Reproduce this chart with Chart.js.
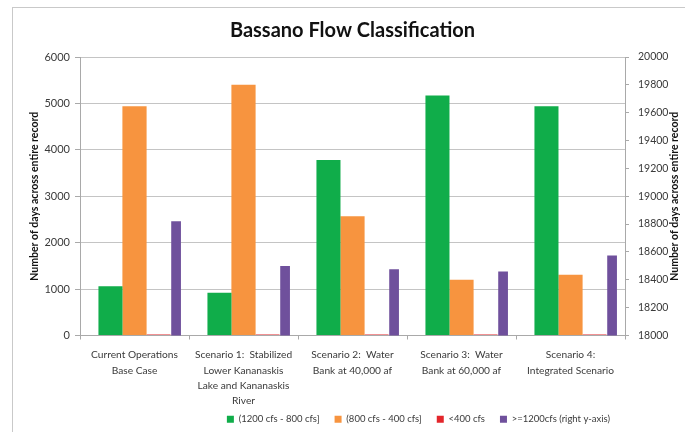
<!DOCTYPE html>
<html>
<head>
<meta charset="utf-8">
<title>Bassano Flow Classification</title>
<script src="https://cdn.jsdelivr.net/npm/chart.js@4.4.1/dist/chart.umd.min.js"></script>
<style>
  html, body { margin: 0; padding: 0; background: #fff; }
  #wrap { position: relative; width: 685px; height: 432px; overflow: hidden; }
  #frame { position: absolute; left: 12px; top: 7px; width: 700px; height: 450px;
           border-left: 1px solid #c9c9c9; border-top: 1px solid #c9c9c9; pointer-events: none; }
  canvas { display: block; }
</style>
</head>
<body>
<div id="wrap">
  <canvas id="chart" width="685" height="432"></canvas>
  <div id="frame"></div>
</div>
<script>
// Scenario labels (multi-line)
const categories = [
  ['Current Operations', 'Base Case'],
  ['Scenario 1:  Stabilized', 'Lower Kananaskis', 'Lake and Kananaskis', 'River'],
  ['Scenario 2:  Water', 'Bank at 40,000 af'],
  ['Scenario 3:  Water', 'Bank at 60,000 af'],
  ['Scenario 4:', 'Integrated Scenario']
];

const seriesNames = [
  '(1200 cfs - 800 cfs]',
  '(800 cfs - 400 cfs]',
  '<400 cfs',
  '>=1200cfs (right y-axis)'
];

// Number of days in each flow class (left axis)
const days1200to800 = [1060, 920, 3780, 5170, 4940];
const days800to400  = [4940, 5400, 2570, 1200, 1310];
const daysBelow400  = [20, 20, 20, 20, 20];
// Number of days above 1200 cfs (right axis)
const daysAbove1200 = [18820, 18500, 18475, 18460, 18575];

// Axis tick values
const leftTicks  = [0, 1000, 2000, 3000, 4000, 5000, 6000];
const rightTicks = [18000, 18200, 18400, 18600, 18800, 19000, 19200, 19400, 19600, 19800, 20000];

const chartTitle = 'Bassano Flow Classification';
const axisTitle = 'Number of days across entire record';

const FONT = 'Lato, "Open Sans", sans-serif';
const GRID = '#c4c4c4';
const AXIS = '#a9a9a9';
const TEXT = '#3a3a3a';

// Secondary axis title, written bottom-to-top beside the right scale
const rightAxisTitle = {
  id: 'rightAxisTitle',
  afterDraw(chart) {
    const s = chart.scales.y2;
    const ctx = chart.ctx;
    ctx.save();
    ctx.translate(s.right - 10, (s.top + s.bottom) / 2);
    ctx.rotate(-Math.PI / 2);
    ctx.font = 'bold 10.5px ' + FONT;
    ctx.fillStyle = '#111';
    ctx.textAlign = 'center';
    ctx.textBaseline = 'middle';
    ctx.fillText(axisTitle, 0, 0);
    ctx.restore();
  }
};

// Let the long category label run past the bottom of the x scale box
const categoryLabelRoom = {
  id: 'categoryLabelRoom',
  beforeDraw(chart) {
    chart.scales.x.bottom = chart.height;
  }
};

new Chart(document.getElementById('chart'), {
  type: 'bar',
  data: {
    labels: categories,
    datasets: [
      {
        label: seriesNames[0], data: days1200to800, yAxisID: 'y',
        backgroundColor: '#10ad4a', stack: 'low',
        categoryPercentage: 0.882, barPercentage: 0.5
      },
      {
        label: seriesNames[1], data: days800to400, yAxisID: 'y',
        backgroundColor: '#f7943f', grouped: false,
        categoryPercentage: 1, barPercentage: 0.222
      },
      {
        label: seriesNames[2], data: daysBelow400, yAxisID: 'y',
        backgroundColor: '#e3262b', stack: 'high',
        categoryPercentage: 0.882, barPercentage: 0.5
      },
      {
        label: seriesNames[3], data: daysAbove1200, yAxisID: 'y2',
        backgroundColor: '#6f509c', stack: 'high',
        categoryPercentage: 1.526, barPercentage: 0.117
      }
    ]
  },
  options: {
    responsive: false,
    devicePixelRatio: 1,
    animation: false,
    layout: { padding: { left: 0, right: 0, top: 0, bottom: -2 } },
    plugins: {
      title: {
        display: true,
        fullSize: false,
        text: chartTitle,
        color: '#111',
        font: { family: FONT, size: 20, weight: 'bold' },
        padding: { top: 19, bottom: 14 }
      },
      legend: {
        position: 'bottom',
        fullSize: false,
        align: 'end',
        labels: {
          color: TEXT,
          font: { family: FONT, size: 9.5 },
          boxWidth: 7,
          boxHeight: 7,
          padding: 15
        }
      },
      tooltip: { enabled: false }
    },
    scales: {
      x: {
        offset: true,
        grid: { display: true, drawOnChartArea: false, drawTicks: true, tickLength: 4, color: AXIS, offset: true },
        border: { color: AXIS },
        ticks: { color: TEXT, font: { family: FONT, size: 10.2, lineHeight: 1.5 }, padding: 8, maxRotation: 0, autoSkip: false },
        afterFit(scale) { scale.height = 64; }
      },
      y: {
        position: 'left',
        stacked: false,
        min: leftTicks[0],
        max: leftTicks[leftTicks.length - 1],
        ticks: {
          stepSize: leftTicks[1] - leftTicks[0],
          color: TEXT,
          font: { family: FONT, size: 11 },
          padding: 5,
          callback: v => String(v)
        },
        grid: { color: GRID, tickLength: 5, tickColor: AXIS },
        border: { color: AXIS },
        title: {
          display: true,
          text: axisTitle,
          color: '#111',
          font: { family: FONT, size: 10.5, weight: 'bold' },
          padding: { top: 28, bottom: 0 }
        },
        afterFit(scale) { scale.width = 80; }
      },
      y2: {
        position: 'right',
        stacked: false,
        min: rightTicks[0],
        max: rightTicks[rightTicks.length - 1],
        ticks: {
          stepSize: rightTicks[1] - rightTicks[0],
          color: TEXT,
          font: { family: FONT, size: 10.5 },
          padding: 9,
          callback: v => String(v)
        },
        grid: { drawOnChartArea: false, tickLength: 4, color: AXIS },
        border: { color: AXIS },
        afterFit(scale) { scale.width = 60; }
      }
    }
  },
  plugins: [rightAxisTitle, categoryLabelRoom]
});
</script>
</body>
</html>
